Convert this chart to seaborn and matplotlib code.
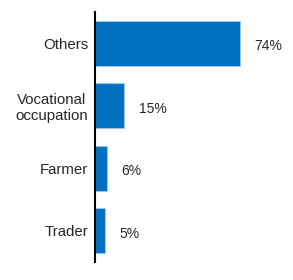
import matplotlib
matplotlib.use('Agg')
import pandas as pd
import matplotlib.pyplot as plt
import seaborn as sns

# Occupation shares (%)
categories = ['Others', 'Vocational\noccupation', 'Farmer', 'Trader']
shares = [74, 15, 6, 5]
labels = ['74%', '15%', '6%', '5%']

data = pd.DataFrame({'Occupation': categories, 'Share': shares})

sns.set_style('white')
plt.rcParams['font.family'] = ['Liberation Sans', 'DejaVu Sans']

fig = plt.figure(figsize=(2.93, 2.80), dpi=100)
ax = fig.add_axes([95 / 293, 18 / 280, 190 / 293, 250 / 280])

sns.barplot(data=data, x='Share', y='Occupation', orient='h', color='#0070C0',
            saturation=1, width=0.72, edgecolor='#9DC3E6', linewidth=0.8, ax=ax)

for i, (v, lab) in enumerate(zip(shares, labels)):
    ax.text(v + 7.5, i + 0.05, lab, va='center', ha='left', fontsize=10, color='#262626')

ax.set_xlim(0, 97)
ax.set_xlabel('')
ax.set_ylabel('')
ax.set_xticks([])
ax.tick_params(axis='y', length=0, pad=5, labelsize=10.8, labelcolor='#262626')
for lab in ax.get_yticklabels():
    lab.set_horizontalalignment('right')
    lab.set_multialignment('center')
for s in ['top', 'right', 'bottom']:
    ax.spines[s].set_visible(False)
ax.spines['left'].set_color('black')
ax.spines['left'].set_linewidth(1.5)

fig.savefig('out.png', dpi=100)
